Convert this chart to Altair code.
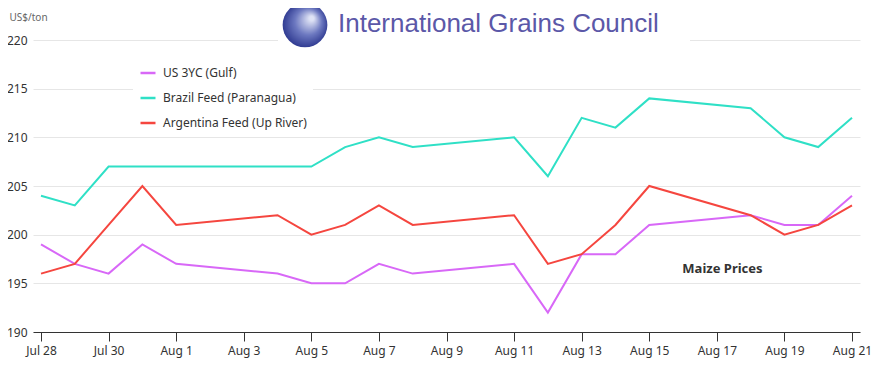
import altair as alt
import pandas as pd

# ---- data ----
dates = ["2025-07-28", "2025-07-29", "2025-07-30", "2025-07-31", "2025-08-01",
         "2025-08-04", "2025-08-05", "2025-08-06", "2025-08-07", "2025-08-08",
         "2025-08-11", "2025-08-12", "2025-08-13", "2025-08-14", "2025-08-15",
         "2025-08-18", "2025-08-19", "2025-08-20", "2025-08-21"]
us_3yc = [199, 197, 196, 199, 197, 196, 195, 195, 197, 196,
          197, 192, 198, 198, 201, 202, 201, 201, 204]
brazil = [204, 203, 207, 207, 207, 207, 207, 209, 210, 209,
          210, 206, 212, 211, 214, 213, 210, 209, 212]
argentina = [196, 197, 201, 205, 201, 202, 200, 201, 203, 201,
             202, 197, 198, 201, 205, 202, 200, 201, 203]
series_names = ["US 3YC (Gulf)", "Brazil Feed (Paranagua)", "Argentina Feed (Up River)"]
series_colors = ["#d868f7", "#2fe0c6", "#f5463f"]
tick_days = [(7, 28), (7, 30), (8, 1), (8, 3), (8, 5), (8, 7), (8, 9), (8, 11),
             (8, 13), (8, 15), (8, 17), (8, 19), (8, 21)]

rows = []
for name, vals in zip(series_names, [us_3yc, brazil, argentina]):
    for d, v in zip(dates, vals):
        rows.append({"date": d + "T00:00:00", "price": v, "series": name})
df = pd.DataFrame(rows)

FONT = "Noto Sans"

x_enc = alt.X(
    "date:T",
    scale=alt.Scale(padding=8),
    axis=alt.Axis(
        title=None,
        values=[alt.DateTime(year=2025, month=m, date=d) for m, d in tick_days],
        format="%b %-d",
        labelFont=FONT, labelFontSize=12, labelColor="#333333",
        tickColor="#333333", tickSize=9, domainColor="#333333",
        labelPadding=4, grid=False, labelFlush=False,
    ),
)
y_enc = alt.Y(
    "price:Q",
    scale=alt.Scale(domain=[190, 220], nice=False, zero=False),
    axis=alt.Axis(
        title="US$/ton", titleAngle=0, titleX=-24, titleY=-23,
        titleAlign="left", titleBaseline="middle", titleFont=FONT,
        titleFontSize=10, titleFontWeight="normal", titleColor="#666666",
        values=[190, 195, 200, 205, 210, 215, 220],
        labelFont=FONT, labelFontSize=12, labelColor="#333333",
        labelPadding=6, domain=False, ticks=False,
        gridColor="#e6e6e6", gridWidth=1,
    ),
)

lines = alt.Chart(df).mark_line(strokeWidth=2).encode(
    x=x_enc,
    y=y_enc,
    color=alt.Color(
        "series:N",
        scale=alt.Scale(domain=series_names, range=series_colors),
        sort=series_names,
        legend=alt.Legend(
            title=None, orient="none", legendX=100, legendY=18,
            symbolType="stroke", symbolStrokeWidth=2.5, symbolSize=225,
            labelFont=FONT, labelFontSize=12, labelColor="#333333",
            labelOffset=6, rowPadding=10, padding=6, fillColor="white",
        ),
    ),
)

label_df = pd.DataFrame({"date": ["2025-08-17T04:00:00"], "price": [196.5],
                         "label": ["Maize Prices"]})
maize = alt.Chart(label_df).mark_text(
    font=FONT, fontSize=13, fontWeight="bold", color="#333333"
).encode(x=x_enc, y=y_enc, text="label:N")

one = pd.DataFrame({"a": [0]})
logo_bg = alt.Chart(one).mark_rect(color="white").encode(
    x=alt.value(245), x2=alt.value(657), y=alt.value(-40), y2=alt.value(4)
)
globe = alt.Chart(one).mark_point(
    shape="circle", filled=True, size=2000, opacity=1,
    color=alt.RadialGradient(
        gradient="radial", x1=0.65, y1=0.35, x2=0.5, y2=0.5, r1=0.05, r2=0.55,
        stops=[alt.GradientStop(offset=0, color="#dfe3f5"),
               alt.GradientStop(offset=0.5, color="#6c78c0"),
               alt.GradientStop(offset=1, color="#26318a")],
    ),
).encode(x=alt.value(272), y=alt.value(-15))
logo_text = alt.Chart(one).mark_text(
    text="International Grains Council", font="Liberation Sans", fontSize=26,
    color="#5b58a8", align="left", baseline="alphabetic"
).encode(x=alt.value(305), y=alt.value(-8))

chart = alt.layer(lines, logo_bg, globe, logo_text, maize).properties(
    width=827, height=292,
    autosize=alt.AutoSizeParams(type="none"),
    padding={"left": 25, "top": 32, "right": 13, "bottom": 30},
).configure_view(stroke=None)

chart.save("out.html", embed_options={"renderer": "svg", "actions": False})
